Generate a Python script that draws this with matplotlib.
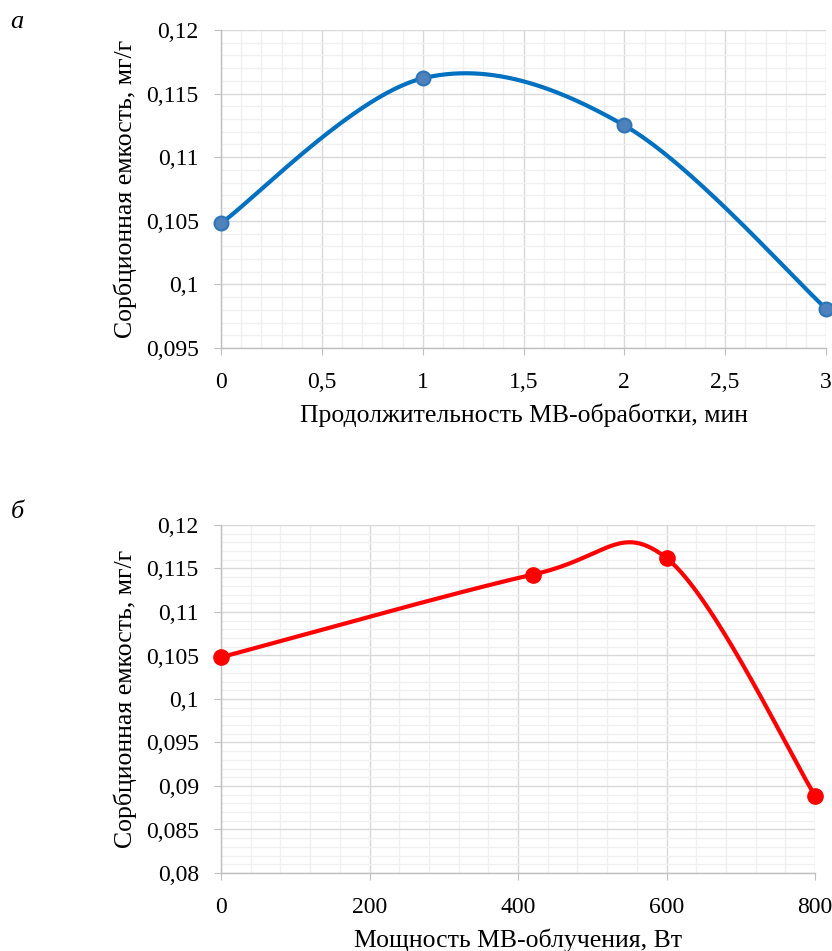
import numpy as np
import matplotlib
matplotlib.use("Agg")
import matplotlib.pyplot as plt
from matplotlib.ticker import MultipleLocator, FuncFormatter

plt.rcParams['font.family'] = ['Liberation Serif', 'DejaVu Serif']

# Data
time_min = [0, 1, 2, 3]
capacity_time = [0.1048, 0.1162, 0.1125, 0.0981]
power_w = [0, 420, 600, 800]
capacity_power = [0.1048, 0.1143, 0.1162, 0.0889]

ylabel = "Сорбционная емкость, мг/г"
xlabel_a = "Продолжительность МВ-обработки, мин"
xlabel_b = "Мощность МВ-облучения, Вт"


def smooth(xs, ys, n=60):
    P = np.column_stack([xs, ys]).astype(float)
    pts = [P[0]] + list(P) + [P[-1]]
    pts = np.array(pts)
    out = []
    for i in range(1, len(pts) - 2):
        p0, p1, p2, p3 = pts[i - 1], pts[i], pts[i + 1], pts[i + 2]
        c1 = p1 + (p2 - p0) / 6.0
        c2 = p2 - (p3 - p1) / 6.0
        t = np.linspace(0, 1, n)[:, None]
        seg = ((1 - t) ** 3) * p1 + 3 * t * (1 - t) ** 2 * c1 + 3 * t ** 2 * (1 - t) * c2 + t ** 3 * p2
        out.append(seg if i == 1 else seg[1:])
    arr = np.vstack(out)
    return arr[:, 0], arr[:, 1]


def comma(v, pos):
    s = ("%.3f" % v).rstrip('0').rstrip('.')
    return s.replace('.', ',')


def style(ax):
    for s in ['top', 'right']:
        ax.spines[s].set_visible(False)
    for s in ['left', 'bottom']:
        ax.spines[s].set_color('#bfbfbf')
        ax.spines[s].set_linewidth(1.0)
    ax.grid(which='major', color='#d9d9d9', linewidth=1.0)
    ax.grid(which='minor', color='#f0f0f0', linewidth=1.0)
    ax.set_axisbelow(True)
    ax.tick_params(which='major', direction='out', length=5, color='#bfbfbf',
                   labelsize=17)
    ax.tick_params(axis='x', which='major', pad=12)
    ax.tick_params(axis='y', which='major', pad=11)
    ax.tick_params(which='minor', length=0)
    ax.yaxis.set_major_formatter(FuncFormatter(comma))
    ax.xaxis.set_major_formatter(FuncFormatter(comma))


fig = plt.figure(figsize=(8.32, 9.51), dpi=100)

ax1 = fig.add_axes([221 / 832, 1 - 348 / 951, (826 - 221) / 832, (348 - 30) / 951])
ax1.set_xlim(0, 3)
ax1.set_ylim(0.095, 0.12)
ax1.xaxis.set_major_locator(MultipleLocator(0.5))
ax1.xaxis.set_minor_locator(MultipleLocator(0.1))
ax1.yaxis.set_major_locator(MultipleLocator(0.005))
ax1.yaxis.set_minor_locator(MultipleLocator(0.001))
style(ax1)
sx, sy = smooth(time_min, capacity_time)
ax1.plot(sx, sy, color='#0070c0', linewidth=3, clip_on=False, zorder=3)
ax1.plot(time_min, capacity_time, 'o', markersize=10, markerfacecolor='#4f81bd',
         markeredgecolor='#2e75b6', markeredgewidth=1.5, clip_on=False, zorder=4)
ax1.set_xlabel(xlabel_a, fontsize=18.5, labelpad=8)
ax1.set_ylabel(ylabel, fontsize=18.5, labelpad=6)

ax2 = fig.add_axes([221 / 832, 1 - 873 / 951, (815 - 221) / 832, (873 - 525) / 951])
ax2.set_xlim(0, 800)
ax2.set_ylim(0.08, 0.12)
ax2.xaxis.set_major_locator(MultipleLocator(200))
ax2.xaxis.set_minor_locator(MultipleLocator(40))
ax2.yaxis.set_major_locator(MultipleLocator(0.005))
ax2.yaxis.set_minor_locator(MultipleLocator(0.001))
style(ax2)
sx, sy = smooth(power_w, capacity_power)
ax2.plot(sx, sy, color='#ff0000', linewidth=3, clip_on=False, zorder=3)
ax2.plot(power_w, capacity_power, 'o', markersize=11, markerfacecolor='#ff0000',
         markeredgecolor='#ff0000', clip_on=False, zorder=4)
ax2.set_xlabel(xlabel_b, fontsize=18.5, labelpad=8)
ax2.set_ylabel(ylabel, fontsize=18.5, labelpad=6)

fig.text(17 / 832, 1 - 22 / 951, "а", fontsize=19, style='italic', va='center', ha='center')
fig.text(17 / 832, 1 - 512 / 951, "б", fontsize=19, style='italic', va='center', ha='center')

fig.savefig("out.png", dpi=100)
